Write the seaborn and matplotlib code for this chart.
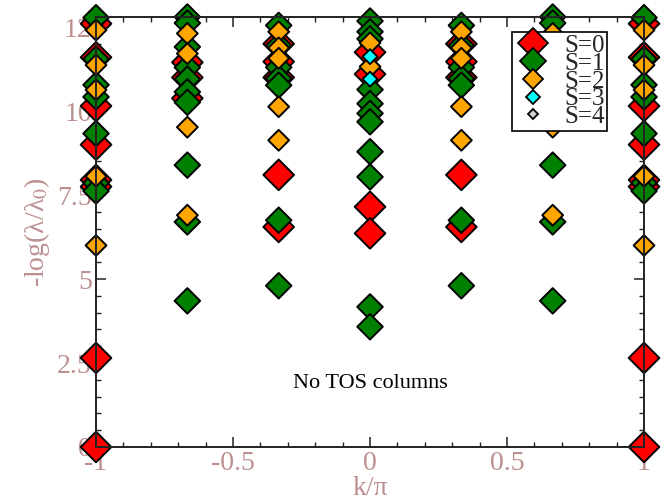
import matplotlib
matplotlib.use('Agg')
import numpy as np
import pandas as pd
import seaborn as sns
import matplotlib.pyplot as plt
from matplotlib.lines import Line2D
from matplotlib.ticker import MultipleLocator, FormatStrFormatter

sns.set_theme(style='white')
plt.rcParams['font.family'] = ['Liberation Serif', 'DejaVu Serif']
plt.rcParams['mathtext.fontset'] = 'stix'
plt.rcParams['axes.unicode_minus'] = False

# momentum columns (k/pi)
k_cols = [-1, -2/3, -1/3, 0, 1/3, 2/3, 1]

# -log(lambda/lambda0) levels per column, by spin sector
s0_levels = [
    [12.6, 11.6, 10.15, 9.0, 7.95, 7.75, 2.65, 0.0],
    [11.45, 11.0, 10.38],
    [12.0, 11.47, 11.0, 8.1, 6.55],
    [11.75, 11.1, 7.15, 6.36],
    [12.0, 11.47, 11.0, 8.1, 6.55],
    [11.45, 11.0, 10.38],
    [12.6, 11.6, 10.15, 9.0, 7.95, 7.75, 2.65, 0.0],
]
s1_levels = [
    [12.78, 11.55, 10.78, 10.42, 9.33, 7.86, 7.62],
    [12.8, 12.62, 11.91, 11.3, 10.95, 10.57, 10.26, 8.39, 6.7, 4.35],
    [12.55, 11.95, 11.3, 10.97, 10.77, 6.75, 4.8],
    [12.68, 12.36, 12.15, 10.64, 10.22, 9.93, 9.68, 8.79, 8.04, 4.17, 3.58],
    [12.55, 11.95, 11.3, 10.97, 10.77, 6.75, 4.8],
    [12.8, 12.62, 11.91, 11.3, 10.95, 10.57, 10.26, 8.39, 6.7, 4.35],
    [12.78, 11.55, 10.78, 10.42, 9.33, 7.86, 7.62],
]
s2_levels = [
    [12.41, 11.37, 10.63, 8.06, 6.0],
    [12.31, 11.71, 9.52, 6.9],
    [12.36, 11.88, 11.57, 10.13, 9.13],
    [12.03, 11.32],
    [12.36, 11.88, 11.57, 10.13, 9.13],
    [12.31, 11.71, 9.52, 6.9],
    [12.41, 11.37, 10.63, 8.06, 6.0],
]
s3_levels = [[], [], [], [11.62, 10.95], [], [], []]
s4_levels = [[], [], [], [], [], [], []]

sectors = [0, 1, 2, 3, 4]
sector_labels = ['S=0', 'S=1', 'S=2', 'S=3', 'S=4']
colors = ['#ff0000', '#008000', '#ffa500', '#00ffff', '#d3d3d3']
marker_ms = [15.6, 13.0, 10.6, 7.6, 5.2]

rows = []
for s, levels in zip(sectors, [s0_levels, s1_levels, s2_levels, s3_levels, s4_levels]):
    for k, ys in zip(k_cols, levels):
        for y in ys:
            rows.append({'k': k, 'y': y, 'S': s})
df = pd.DataFrame(rows)

fig, ax = plt.subplots(figsize=(6.71, 5.04), dpi=100)
fig.subplots_adjust(left=0.1431, right=0.9598, bottom=0.1131, top=0.9663)

sns.scatterplot(data=df, x='k', y='y', hue='S', size='S',
                palette=dict(zip(sectors, colors)),
                sizes=dict(zip(sectors, [m ** 2 for m in marker_ms])),
                marker='D', edgecolor='black', linewidth=1.4,
                legend=False, clip_on=False, zorder=3, ax=ax)

ax.set_xlim(-1, 1)
ax.set_ylim(0, 12.8)
ax.xaxis.set_major_locator(MultipleLocator(0.5))
ax.xaxis.set_minor_locator(MultipleLocator(0.1))
ax.yaxis.set_major_locator(MultipleLocator(2.5))
ax.yaxis.set_minor_locator(MultipleLocator(0.5))
ax.xaxis.set_major_formatter(FormatStrFormatter('%g'))
ax.yaxis.set_major_formatter(FormatStrFormatter('%.2g'))

tick_color = '#bc8f8f'
ax.tick_params(which='both', direction='in', top=True, right=True,
               left=True, bottom=True, color='#222222')
ax.tick_params(which='major', length=7, width=1.1, labelsize=20,
               labelcolor=tick_color, pad=3)
ax.tick_params(which='minor', length=3.5, width=1.0)
for sp in ax.spines.values():
    sp.set_color('#222222')
    sp.set_linewidth(1.4)
    sp.set_zorder(4)

ax.set_xlabel('k/π', fontsize=20, color=tick_color, labelpad=0)
ax.set_ylabel('-log(λ/λ$_0$)', fontsize=20, color=tick_color, labelpad=4)

ax.text(0, 1.9, 'No TOS columns', ha='center', va='center',
        fontsize=16, color='black')

handles = [Line2D([], [], marker='D', linestyle='none', markerfacecolor=c,
                  markeredgecolor='black', markeredgewidth=1.3, markersize=m)
           for c, m in zip(colors, marker_ms)]
leg = ax.legend(handles, sector_labels, loc='upper right',
                bbox_to_anchor=(0.9325, 0.965), borderaxespad=0,
                fontsize=18, labelspacing=-0.19, handlelength=1.5,
                handletextpad=0.5, borderpad=0.1, frameon=True,
                fancybox=False, framealpha=1, edgecolor='black')
leg.get_frame().set_linewidth(1.2)
leg.set_zorder(6)

fig.savefig('out.png', dpi=100, facecolor='white')
